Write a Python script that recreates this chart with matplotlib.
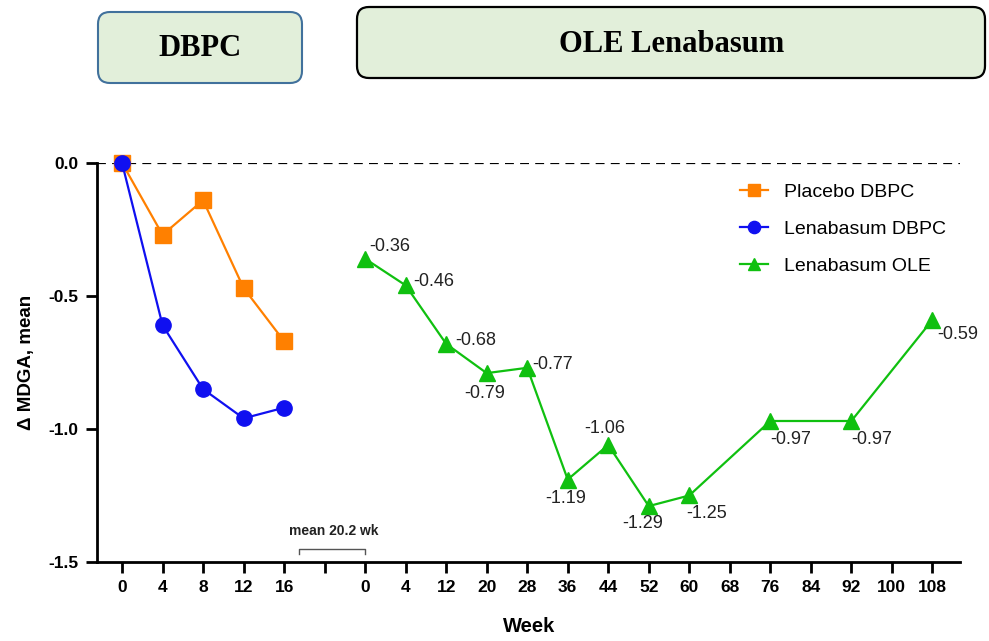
import matplotlib
matplotlib.use("Agg")
import matplotlib.pyplot as plt
from matplotlib.patches import FancyBboxPatch

plt.rcParams['font.family'] = ['Liberation Sans', 'DejaVu Sans']

# week tick labels (categorical axis); blank slot separates DBPC and OLE
week_labels = ['0', '4', '8', '12', '16', '',
               '0', '4', '12', '20', '28', '36', '44', '52', '60', '68',
               '76', '84', '92', '100', '108']

dbpc_pos = [0, 1, 2, 3, 4]
placebo_dbpc = [0.0, -0.27, -0.14, -0.47, -0.67]
lena_dbpc = [0.0, -0.61, -0.85, -0.96, -0.92]

ole_pos = [6, 7, 8, 9, 10, 11, 12, 13, 14, 16, 18, 20]
lena_ole = [-0.36, -0.46, -0.68, -0.79, -0.77, -1.19, -1.06, -1.29, -1.25,
            -0.97, -0.97, -0.59]
ole_text = ['-0.36', '-0.46', '-0.68', '-0.79', '-0.77', '-1.19', '-1.06',
            '-1.29', '-1.25', '-0.97', '-0.97', '-0.59']
# label offsets in pixels
ole_off = [(25, 12), (28, 4), (30, 3), (-2, -20), (25, 3), (-2, -19),
           (-3, 16), (-6, -17), (17, -18), (20, -19), (20, -19), (25, -15)]

fig = plt.figure(figsize=(9.89, 6.41), dpi=100)
ax = fig.add_axes([0.098, 0.1233, 0.873, 0.6224])

ax.axhline(0, color='black', lw=1.6, ls=(0, (4, 2.8)), zorder=1)

ax.plot(dbpc_pos, placebo_dbpc, color='#FF8000', lw=1.6, marker='s', ms=11,
        label='Placebo DBPC', clip_on=False, zorder=3)
ax.plot(dbpc_pos, lena_dbpc, color='#1010F0', lw=1.6, marker='o', ms=11,
        label='Lenabasum DBPC', clip_on=False, zorder=4)
ax.plot(ole_pos, lena_ole, color='#10C010', lw=1.6, marker='^', ms=11,
        label='Lenabasum OLE', clip_on=False, zorder=3)

for x, y, t, (dx, dy) in zip(ole_pos, lena_ole, ole_text, ole_off):
    ax.annotate(t, (x, y), xytext=(dx, dy), textcoords='offset pixels',
                ha='center', va='center', fontsize=13, color='#222222')

# bracket for the gap between phases
ax.plot([4.37, 4.37, 6.0, 6.0], [-1.47, -1.451, -1.451, -1.47],
        color='#555555', lw=1.0, clip_on=False)
ax.text(5.23, -1.385, 'mean 20.2 wk', ha='center', va='center',
        fontsize=10, fontweight='bold', color='#222222')

ax.set_xlim(-0.62, 20.69)
ax.set_ylim(-1.5, 0)
ax.set_xticks(range(len(week_labels)))
ax.set_xticklabels(week_labels)
ax.set_yticks([0, -0.5, -1.0, -1.5])
ax.set_yticklabels(['0.0', '-0.5', '-1.0', '-1.5'])
for lab in ax.get_xticklabels() + ax.get_yticklabels():
    lab.set_fontweight('bold')
    lab.set_fontsize(12.5)
ax.tick_params(direction='out', length=8, width=2, pad=5)
for s in ['top', 'right']:
    ax.spines[s].set_visible(False)
for s in ['left', 'bottom']:
    ax.spines[s].set_linewidth(2)

ax.set_xlabel('Week', fontsize=14.5, fontweight='bold', labelpad=16)
ax.set_ylabel('Δ MDGA, mean', fontsize=13.5, fontweight='bold', labelpad=10)

ax.legend(loc='upper left', bbox_to_anchor=(722 / 989, 1 - 166 / 641),
          bbox_transform=fig.transFigure, frameon=False, fontsize=14,
          handlelength=1.45, handletextpad=0.82, labelspacing=1.0,
          markerscale=0.8)

# phase header boxes (inches)
fig.patches.append(FancyBboxPatch((0.98, 5.58), 2.04, 0.71,
                                  boxstyle='round,pad=0,rounding_size=0.12',
                                  transform=fig.dpi_scale_trans,
                                  facecolor='#E2EFDA', edgecolor='#41719C',
                                  lw=1.5))
fig.patches.append(FancyBboxPatch((3.57, 5.63), 6.28, 0.71,
                                  boxstyle='round,pad=0,rounding_size=0.12',
                                  transform=fig.dpi_scale_trans,
                                  facecolor='#E2EFDA', edgecolor='black',
                                  lw=1.6))
fig.text(2.00, 5.93, 'DBPC', transform=fig.dpi_scale_trans, ha='center',
         va='center', fontsize=22, fontweight='bold', family='Liberation Serif')
fig.text(6.72, 5.97, 'OLE Lenabasum', transform=fig.dpi_scale_trans,
         ha='center', va='center', fontsize=22, fontweight='bold',
         family='Liberation Serif')

fig.savefig('out.png', dpi=100)
